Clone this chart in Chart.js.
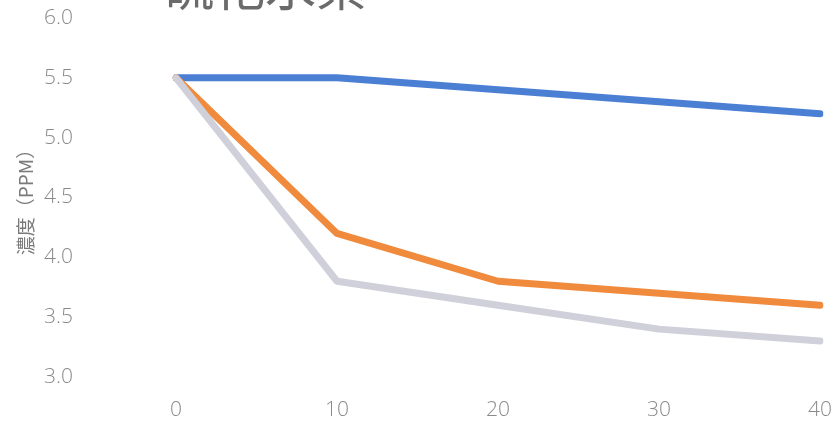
<!DOCTYPE html>
<html>
<head>
<meta charset="utf-8">
<script src="https://cdn.jsdelivr.net/npm/chart.js@4.4.1/dist/chart.umd.min.js"></script>
<style>
  html, body { margin: 0; padding: 0; background: #fff; overflow: hidden; }
  #wrap { position: relative; width: 836px; height: 421px; overflow: hidden; }
  #title { position: absolute; left: 163px; top: -41px; font-family: "Noto Sans CJK JP", sans-serif;
           font-size: 51px; line-height: 1; color: #6b6b6b; white-space: nowrap; letter-spacing: 0px; }
  canvas { position: absolute; left: 0; top: 0; }
</style>
</head>
<body>
<div id="wrap">
  <canvas id="c" width="836" height="421"></canvas>
  <div id="title">硫化水素</div>
</div>
<script>
const categories = ['0', '10', '20', '30', '40'];
const seriesBlue = [5.5, 5.5, 5.4, 5.3, 5.2];
const seriesOrange = [5.5, 4.2, 3.8, 3.7, 3.6];
const seriesGray = [5.5, 3.8, 3.6, 3.4, 3.3];
const yAxisTitle = '濃度（PPM）';
const yMin = 3.0, yMax = 6.0, yStep = 0.5;

const tickFont = { family: "'Open Sans', sans-serif", size: 21, weight: 300 };

new Chart(document.getElementById('c'), {
  type: 'line',
  data: {
    labels: categories,
    datasets: [
      { data: seriesBlue, borderColor: '#4a7fd4', order: 2 },
      { data: seriesOrange, borderColor: '#f08a3c', order: 1 },
      { data: seriesGray, borderColor: '#cfd0da', order: 0 }
    ].map(d => Object.assign({
      borderWidth: 7, pointRadius: 0, tension: 0, fill: false,
      borderCapStyle: 'round', borderJoinStyle: 'round'
    }, d))
  },
  options: {
    responsive: false,
    animation: false,
    events: [],
    layout: { padding: { top: 18, right: 16, bottom: 0, left: 0 } },
    plugins: { legend: { display: false }, tooltip: { enabled: false }, title: { display: false } },
    scales: {
      x: {
        offset: false,
        grid: { display: false, drawTicks: false },
        border: { display: false },
        ticks: { color: '#8a8a8a', font: tickFont, padding: 20, maxRotation: 0, autoSkip: false },
        afterFit: s => { s.height = 44; s.paddingLeft = 0; s.paddingRight = 0; }
      },
      y: {
        min: yMin, max: yMax,
        grid: { display: false, drawTicks: false },
        border: { display: false },
        ticks: { stepSize: yStep, color: '#8a8a8a', font: tickFont, padding: 103,
                 callback: v => Number(v).toFixed(1) },
        title: { display: true, text: yAxisTitle, color: '#7a7a7a',
                 font: { family: "'Noto Sans CJK JP', sans-serif", size: 19 },
                 padding: { top: 14, bottom: 0 } },
        afterFit: s => { s.width = 176; s.paddingTop = 0; s.paddingBottom = 0; }
      }
    }
  }
});
</script>
</body>
</html>
